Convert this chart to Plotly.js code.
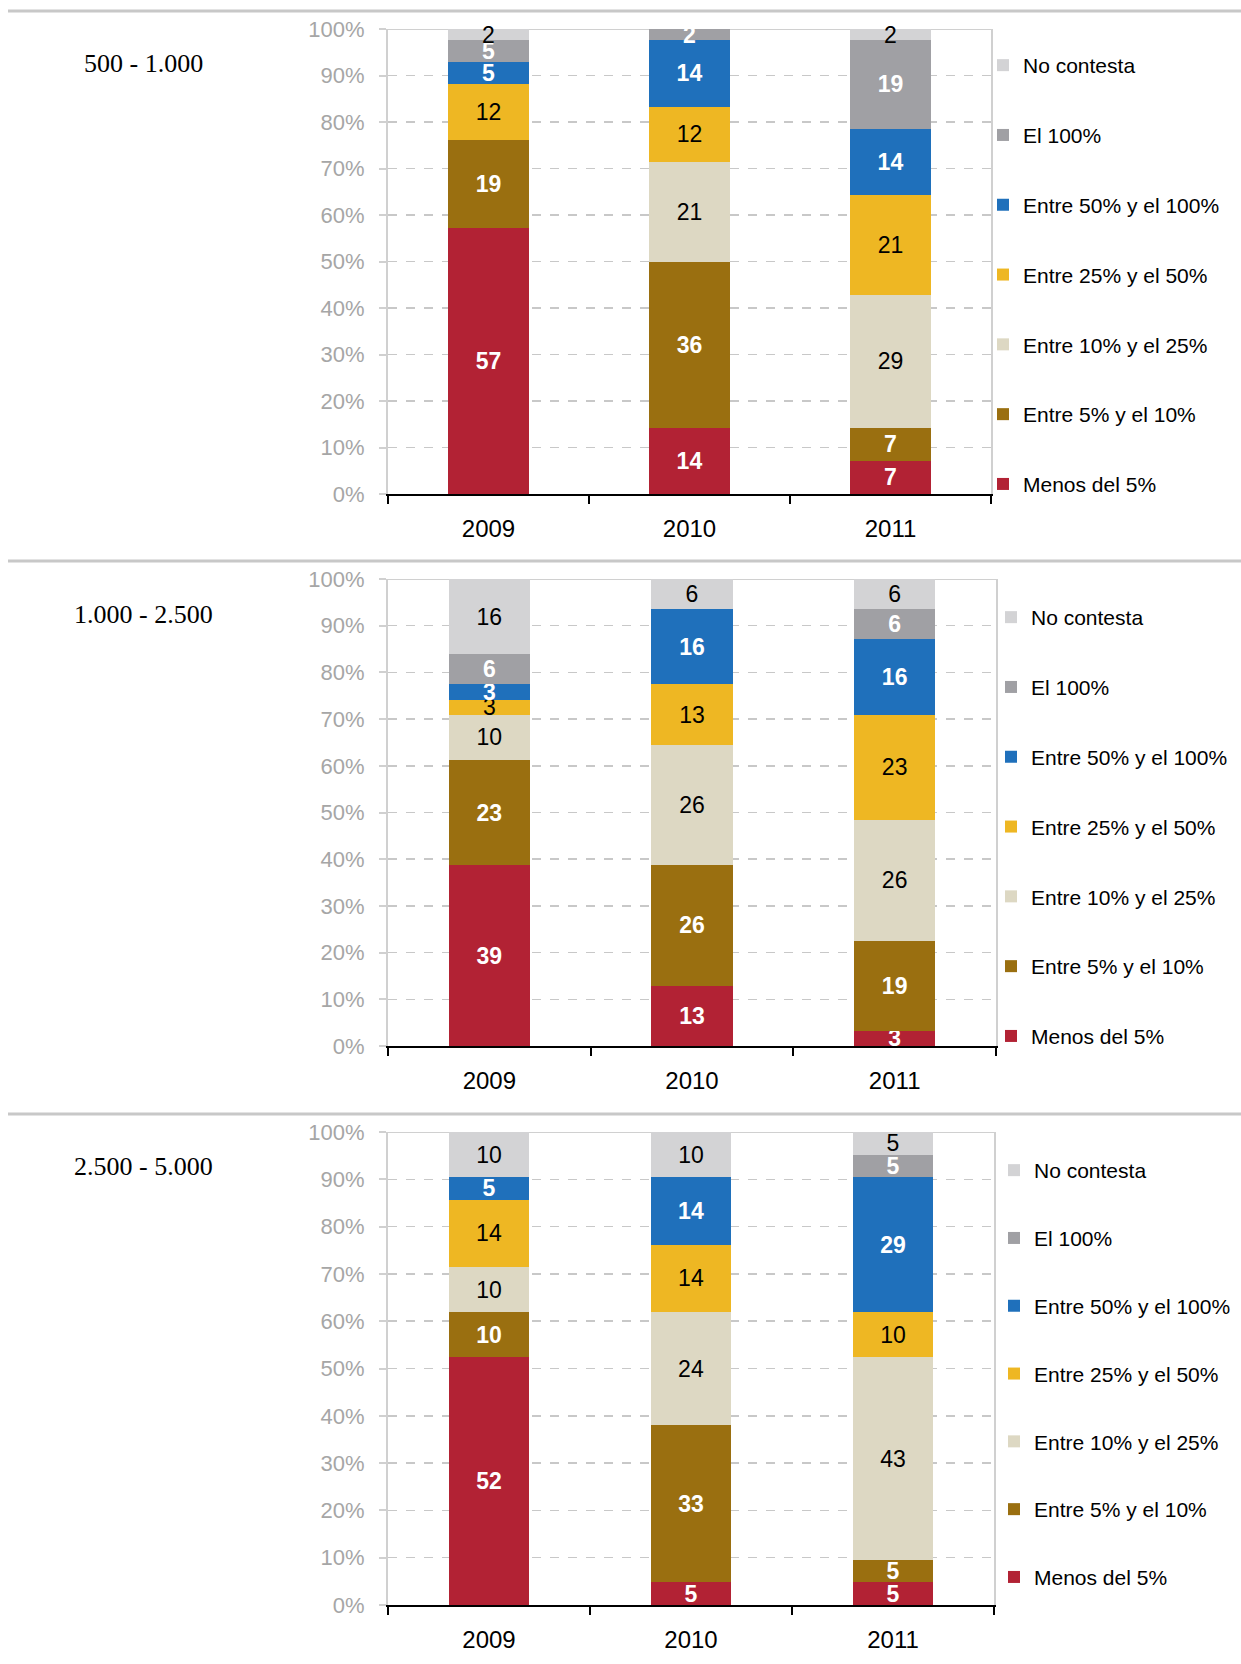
<!DOCTYPE html>
<html><head><meta charset="utf-8">
<script src="https://cdn.plot.ly/plotly-3.0.1.min.js"></script>
<style>body{margin:0;background:#fff}#chart{width:1241px;height:1664px}</style>
</head><body><div id="chart"></div>
<script>
// ---- data ----
const years = ['2009', '2010', '2011'];
const seriesNames = ['Menos del 5%', 'Entre 5% y el 10%', 'Entre 10% y el 25%', 'Entre 25% y el 50%', 'Entre 50% y el 100%', 'El 100%', 'No contesta'];
const panelTitles = ['500 - 1.000', '1.000 - 2.500', '2.500 - 5.000'];

// Panel 1: 500 - 1.000  (values per year 2009, 2010, 2011)
const p1Menos5   = [57.14, 14.29, 7.14];
const p1Entre5   = [19.05, 35.71, 7.14];
const p1Entre10  = [0, 21.43, 28.57];
const p1Entre25  = [11.90, 11.90, 21.43];
const p1Entre50  = [4.76, 14.29, 14.29];
const p1El100    = [4.76, 2.38, 19.05];
const p1NoCont   = [2.38, 0, 2.38];

// Panel 2: 1.000 - 2.500
const p2Menos5   = [38.70, 12.90, 3.23];
const p2Entre5   = [22.58, 25.81, 19.35];
const p2Entre10  = [9.68, 25.81, 25.81];
const p2Entre25  = [3.23, 12.90, 22.58];
const p2Entre50  = [3.23, 16.13, 16.13];
const p2El100    = [6.45, 0, 6.45];
const p2NoCont   = [16.12, 6.45, 6.44];

// Panel 3: 2.500 - 5.000
const p3Menos5   = [52.38, 4.76, 4.76];
const p3Entre5   = [9.52, 33.33, 4.76];
const p3Entre10  = [9.52, 23.81, 42.86];
const p3Entre25  = [14.29, 14.29, 9.52];
const p3Entre50  = [4.76, 14.29, 28.57];
const p3El100    = [0, 0, 4.76];
const p3NoCont   = [9.52, 9.52, 4.76];

const yTickVals = [0, 10, 20, 30, 40, 50, 60, 70, 80, 90, 100];
const yTickLabels = ['0%', '10%', '20%', '30%', '40%', '50%', '60%', '70%', '80%', '90%', '100%'];

// ---- styles ----
const colors = ['#b22234', '#9a6f10', '#ddd8c3', '#eeb723', '#1f70bb', '#a0a0a4', '#d3d3d5'];
const darkLabel = [true, true, false, false, true, true, false];
const NARROW = '"Liberation Sans Narrow", "Arial Narrow", "Liberation Sans", Arial, sans-serif';
const SANS = '"Liberation Sans", Arial, sans-serif';
const SERIF = '"Liberation Serif", "Times New Roman", serif';

const panels = [
  [p1Menos5, p1Entre5, p1Entre10, p1Entre25, p1Entre50, p1El100, p1NoCont],
  [p2Menos5, p2Entre5, p2Entre10, p2Entre25, p2Entre50, p2El100, p2NoCont],
  [p3Menos5, p3Entre5, p3Entre10, p3Entre25, p3Entre50, p3El100, p3NoCont]
];

const W = 1241, H = 1664;
// pixel geometry of each panel: [xLeft, xRight, yTop(100%), yBottom(0%)]
const geom = [
  [388, 991, 29, 494],
  [388, 996, 579, 1046],
  [388, 994, 1132, 1605]
];
const legendPos = [[983, 45], [991, 597], [994, 1150]];
const legendGap = [39.5, 39.5, 37.5];
const titlePos = [[82, 64], [72, 614], [72, 1166]];
const sepY = [11, 561, 1114];

const traces = [];
const layout = {
  width: W, height: H,
  margin: {l: 0, r: 0, t: 0, b: 0},
  paper_bgcolor: '#fff', plot_bgcolor: '#fff',
  barmode: 'stack', bargap: 0.6,
  showlegend: true,
  annotations: [], shapes: []
};

panels.forEach((vals, p) => {
  const sfx = p === 0 ? '' : String(p + 1);
  const xa = 'x' + sfx, ya = 'y' + sfx;
  const legName = 'legend' + sfx;
  vals.forEach((v, s) => {
    traces.push({
      type: 'bar',
      x: years, y: v,
      xaxis: xa, yaxis: ya,
      name: seriesNames[s],
      legend: legName,
      legendgroup: 'p' + p + 's' + s,
      legendrank: 100 - s,
      marker: {color: colors[s], line: {width: 0}},
      text: v.map(d => d > 0 ? String(Math.round(d)) : ''),
      textposition: 'inside',
      insidetextanchor: 'middle',
      constraintext: 'none',
      textangle: 0,
      cliponaxis: false,
      textfont: {
        family: NARROW, size: 23,
        color: darkLabel[s] ? '#ffffff' : '#000000',
        weight: darkLabel[s] ? 'bold' : 'normal'
      },
      hoverinfo: 'name+y'
    });
  });
  const g = geom[p];
  layout['xaxis' + sfx] = {
    anchor: ya,
    domain: [g[0] / W, g[1] / W],
    type: 'category',
    showline: true, linecolor: '#000', linewidth: 2,
    ticks: 'outside', tickson: 'boundaries', ticklen: 8, tickwidth: 2, tickcolor: '#000',
    tickfont: {family: NARROW, size: 24, color: '#000'},
    ticklabelstandoff: 12,
    showgrid: false, zeroline: false, fixedrange: true
  };
  layout['yaxis' + sfx] = {
    anchor: xa,
    domain: [1 - g[3] / H, 1 - g[2] / H],
    range: [0, 100],
    tickmode: 'array', tickvals: yTickVals, ticktext: yTickLabels,
    showline: true, linecolor: '#d0d0d0', linewidth: 2, mirror: true,
    ticks: 'outside', ticklen: 7, tickwidth: 2, tickcolor: '#d0d0d0',
    ticklabelstandoff: 10,
    tickfont: {family: NARROW, size: 22, color: '#a6a6a6'},
    showgrid: true, gridcolor: '#c8c8c8', gridwidth: 1.5, griddash: 'dash',
    zeroline: false, fixedrange: true
  };
  layout[legName] = {
    x: legendPos[p][0] / W, y: 1 - legendPos[p][1] / H,
    xanchor: 'left', yanchor: 'top',
    traceorder: 'grouped',
    tracegroupgap: legendGap[p],
    bgcolor: 'rgba(0,0,0,0)', borderwidth: 0,
    font: {family: SANS, size: 21, color: '#000'},
    itemclick: false, itemdoubleclick: false
  };
  layout.annotations.push({
    xref: 'paper', yref: 'paper',
    x: titlePos[p][0] / W, y: 1 - titlePos[p][1] / H,
    xanchor: 'left', yanchor: 'middle', showarrow: false,
    text: panelTitles[p],
    font: {family: SERIF, size: 26, color: '#000'}
  });
  layout.shapes.push({
    type: 'line', xref: xa + ' domain', yref: ya,
    x0: 0, x1: 1, y0: 100, y1: 100,
    line: {color: '#d0d0d0', width: 2}, layer: 'below'
  });
  layout.shapes.push({
    type: 'line', xref: 'paper', yref: 'paper',
    x0: 8 / W, x1: 1, y0: 1 - sepY[p] / H, y1: 1 - sepY[p] / H,
    line: {color: '#c8c8c8', width: 3}
  });
});

Plotly.newPlot('chart', traces, layout, {staticPlot: true, displayModeBar: false});
</script>
</body></html>
